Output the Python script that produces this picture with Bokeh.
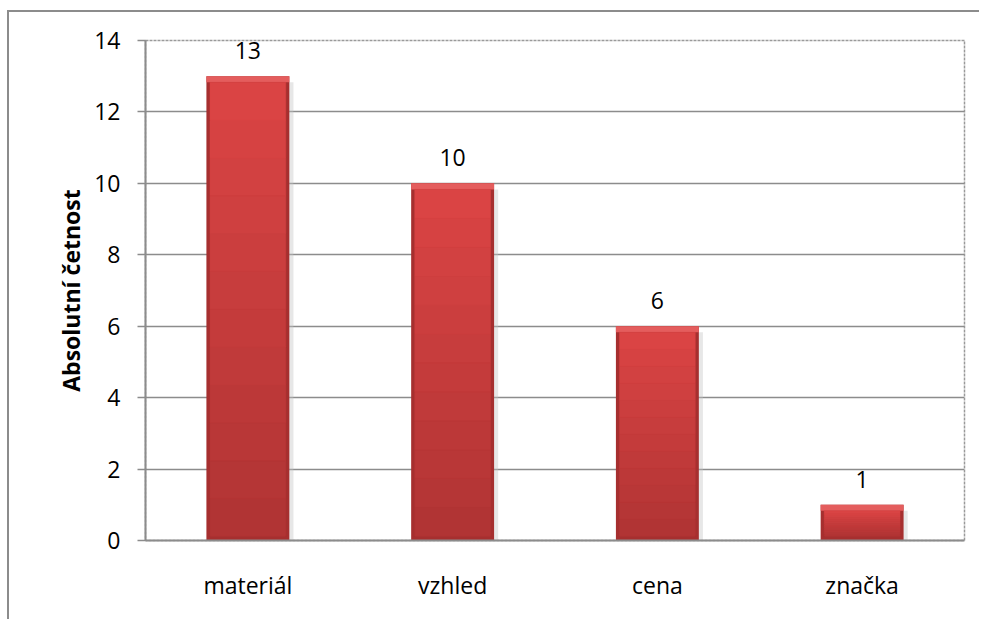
from bokeh.plotting import figure
from bokeh.models import ColumnDataSource, LabelSet, FixedTicker
from bokeh.core.properties import value
from bokeh.embed import file_html
from bokeh.resources import INLINE
from bokeh.transform import dodge

categories = ["materiál", "vzhled", "cena", "značka"]
values = [13, 10, 6, 1]
y_ticks = [0, 2, 4, 6, 8, 10, 12, 14]
y_title = "Absolutní četnost"

FONT = "Open Sans"
FS = "23px"
GRID = "#8c8c8c"

src = ColumnDataSource(dict(
    cat=categories,
    val=values,
    lab=[str(v) for v in values],
    bevel_bottom=[v - 0.17 for v in values],
))

p = figure(
    x_range=categories, y_range=(0, 14),
    width=972, height=609,
    output_backend="svg", toolbar_location=None,
    min_border_left=136, min_border_right=17,
    min_border_top=28, min_border_bottom=81,
)
p.styles = {"border-left": "2px solid #8c8c8c", "border-top": "2px solid #8c8c8c",
            "margin-top": "10px", "margin-left": "7px"}

p.background_fill_color = "white"
p.border_fill_color = "white"
p.outline_line_color = "#9a9a9a"
p.outline_line_dash = "3 1"
p.outline_line_width = 1.5

# grid
p.xgrid.grid_line_color = None
p.ygrid.grid_line_color = GRID
p.ygrid.grid_line_width = 1.5
p.yaxis.ticker = FixedTicker(ticks=y_ticks)

# axes
for ax in (p.xaxis, p.yaxis):
    ax.axis_line_color = GRID
    ax.axis_line_width = 2
    ax.major_label_text_font = FONT
    ax.major_label_text_font_size = FS
    ax.major_label_text_color = "black"
    ax.minor_tick_line_color = None

p.yaxis.major_tick_line_color = GRID
p.yaxis.major_tick_line_width = 1.5
p.yaxis.major_tick_out = 8
p.yaxis.major_tick_in = 0
p.yaxis.major_label_standoff = 17
p.yaxis.axis_label = y_title
p.yaxis.axis_label_text_font = FONT
p.yaxis.axis_label_text_font_style = "bold"
p.yaxis.axis_label_text_font_size = FS
p.yaxis.axis_label_text_color = "black"
p.yaxis.axis_label_standoff = 4

p.xaxis.major_tick_line_color = None
p.xaxis.major_tick_out = 0
p.xaxis.major_label_standoff = 28

# shadow
p.vbar(x=dodge("cat", 0.02, range=p.x_range), top="bevel_bottom", bottom=0, width=0.405,
       source=src, fill_color="#c4c4c4", fill_alpha=0.4, line_color=None)
# bar edge (dark bevel)
p.vbar(x="cat", top="val", bottom=0, width=0.405, source=src,
       fill_color="#a62f2f", line_color=None)
# top bevel (light)
p.vbar(x="cat", top="val", bottom="bevel_bottom", width=0.405, source=src,
       fill_color="#e45d5d", line_color=None)

# face with vertical gradient built from slices of each bar
N = 12
top_rgb = (0xdc, 0x45, 0x45)
bot_rgb = (0xb0, 0x34, 0x34)
for i in range(N):
    f0, f1 = i / N, (i + 1) / N
    t = (f0 + f1) / 2
    col = "#%02x%02x%02x" % tuple(int(b + (a - b) * t) for a, b in zip(top_rgb, bot_rgb))
    lo = [0.12 + (v - 0.29) * f0 for v in values]
    hi = [0.12 + (v - 0.29) * f1 for v in values]
    p.vbar(x=categories, bottom=lo, top=hi, width=0.37,
           fill_color=col, line_color=col, line_width=0.5)

labels = LabelSet(x="cat", y="val", text="lab", source=src,
                  text_align="center", text_baseline="alphabetic", y_offset=17,
                  text_font=value(FONT), text_font_size=FS, text_color="black")
p.add_layout(labels)

open("out.html", "w").write(file_html(p, INLINE))
